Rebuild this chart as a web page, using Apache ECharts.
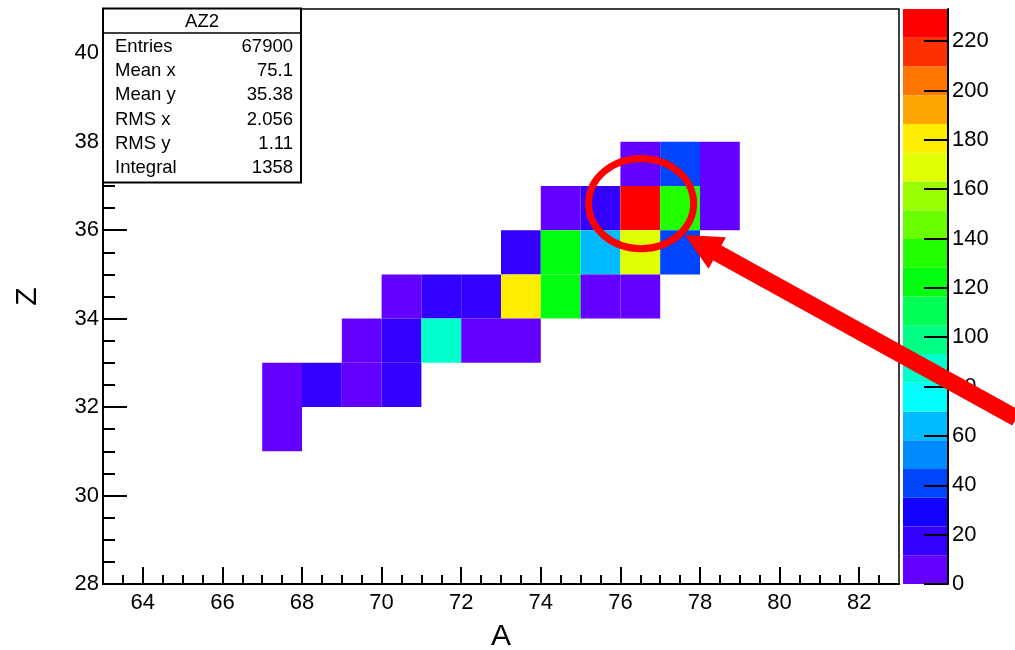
<!DOCTYPE html>
<html>
<head>
<meta charset="utf-8">
<script src="https://cdn.jsdelivr.net/npm/echarts@6/dist/echarts.min.js"></script>
<style>
  html, body { margin: 0; padding: 0; background: #fff; }
  #chart { width: 1015px; height: 650px; }
</style>
</head>
<body>
<div id="chart"></div>
<script>
// AZ2 histogram: bin contents, one row per Z value, bins starting at rowFirstA
const zRows     = [37, 36, 35, 34, 33, 32, 31];
const rowFirstA = [76, 74, 73, 70, 69, 67, 67];
const rowCounts = [
  [6, 40, 5],
  [6, 20, 233, 135, 7],
  [16, 122, 64, 170, 40],
  [4, 14, 15, 180, 122, 6, 5],
  [3, 13, 88, 4, 4],
  [3, 13, 4, 14],
  [2]
];

// axis ranges and tick labels
const aRange = [63, 83];
const zRange = [28, 41];
const aTicks = [64, 66, 68, 70, 72, 74, 76, 78, 80, 82];
const zTicks = [28, 30, 32, 34, 36, 38, 40];
const paletteTicks = [0, 20, 40, 60, 80, 100, 120, 140, 160, 180, 200, 220];

// statistics box
const statTitle  = 'AZ2';
const statLabels = ['Entries', 'Mean x', 'Mean y', 'RMS x', 'RMS y', 'Integral'];
const statValues = ['67900', '75.1', '35.38', '2.056', '1.11', '1358'];

// 20 contour colours, violet -> red
const palette = [
  '#6300ff', '#3300ff', '#1400ff', '#0044ff', '#008bff',
  '#00bbff', '#00fffc', '#00ffcc', '#00ff85', '#00ff55',
  '#00ff0e', '#22ff00', '#69ff00', '#99ff00', '#e0ff00',
  '#ffee00', '#ffa700', '#ff7700', '#ff3000', '#ff0000'
];

// annotation anchors (data units)
const ringCenter = [76.52, 36.6];
const ringRadius = [1.32, 1.02];
const arrowTip   = [77.62, 35.89];
const arrowTail  = [85.95, 31.75];

const FONT = '"Liberation Sans", Arial, Helvetica, sans-serif';

// flatten rows into [A, Z, count]
const cells = [];
zRows.forEach((z, r) => {
  rowCounts[r].forEach((c, j) => cells.push([rowFirstA[r] + j, z, c]));
});
const zTop = Math.max(...cells.map(c => c[2]));
const nLev = palette.length;
const step = zTop / nLev;
const pieces = palette.map((color, i) => (
  i === nLev - 1 ? { gte: i * step, lte: zTop, color } : { gte: i * step, lt: (i + 1) * step, color }
));
// colour-bar bands: [x, low, mid, high]
const bands = palette.map((_, i) => [0, i * step, (i + 0.5) * step, (i + 1) * step]);

const minorTicks = (lo, hi) => {
  const out = [];
  for (let v = lo + 0.5; v < hi; v += 0.5) if (v % 2 !== 0) out.push(v);
  return out;
};

const chart = echarts.init(document.getElementById('chart'), null, { renderer: 'canvas' });

const tickLabel = { color: '#000', fontFamily: FONT, fontSize: 22 };

chart.setOption({
  animation: false,
  backgroundColor: '#fff',
  textStyle: { fontFamily: FONT },
  grid: [
    { left: 103, top: 9, width: 796, height: 575, outerBoundsMode: 'none', containLabel: false,
      show: true, borderColor: '#000', borderWidth: 1.5, backgroundColor: 'transparent' },
    { left: 903, top: 9, width: 45, height: 575, outerBoundsMode: 'none', containLabel: false }
  ],
  xAxis: [
    {
      gridIndex: 0, type: 'value', min: aRange[0], max: aRange[1], position: 'bottom',
      axisLine: { show: true, onZero: false, lineStyle: { color: '#000', width: 2 } },
      axisTick: { show: true, inside: true, length: 17, lineStyle: { color: '#000', width: 2 }, customValues: aTicks },
      axisLabel: Object.assign({ margin: 8, customValues: aTicks }, tickLabel),
      splitLine: { show: false },
      name: 'A', nameLocation: 'middle', nameGap: 38,
      nameTextStyle: { color: '#000', fontFamily: FONT, fontSize: 30 }
    },
    {
      gridIndex: 0, type: 'value', min: aRange[0], max: aRange[1], position: 'bottom',
      axisLine: { show: false, onZero: false },
      axisTick: { show: true, inside: true, length: 9, lineStyle: { color: '#000', width: 2 }, customValues: minorTicks(aRange[0], aRange[1]) },
      axisLabel: { show: false },
      splitLine: { show: false }
    },
    { gridIndex: 1, type: 'value', min: 0, max: 1, show: false }
  ],
  yAxis: [
    {
      gridIndex: 0, type: 'value', min: zRange[0], max: zRange[1], position: 'left',
      axisLine: { show: true, onZero: false, lineStyle: { color: '#000', width: 2 } },
      axisTick: { show: true, inside: true, length: 24, lineStyle: { color: '#000', width: 2 }, customValues: zTicks },
      axisLabel: Object.assign({ margin: 4, customValues: zTicks }, tickLabel),
      splitLine: { show: false },
      name: 'Z', nameLocation: 'middle', nameGap: 60, nameRotate: 90,
      nameTextStyle: { color: '#000', fontFamily: FONT, fontSize: 30 }
    },
    {
      gridIndex: 0, type: 'value', min: zRange[0], max: zRange[1], position: 'left',
      axisLine: { show: false, onZero: false },
      axisTick: { show: true, inside: true, length: 12, lineStyle: { color: '#000', width: 2 }, customValues: minorTicks(zRange[0], zRange[1]) },
      axisLabel: { show: false },
      splitLine: { show: false }
    },
    {
      gridIndex: 1, type: 'value', min: 0, max: zTop, position: 'right', z: 10,
      axisLine: { show: true, onZero: false, lineStyle: { color: '#000', width: 2 } },
      axisTick: { show: true, inside: true, length: 24, lineStyle: { color: '#000', width: 2 }, customValues: paletteTicks },
      axisLabel: Object.assign({ margin: 4, customValues: paletteTicks }, tickLabel),
      splitLine: { show: false }
    }
  ],
  visualMap: {
    type: 'piecewise', show: false, dimension: 2, seriesIndex: [0, 1], pieces
  },
  series: [
    {
      name: 'AZ2', type: 'custom', xAxisIndex: 0, yAxisIndex: 0, clip: true,
      data: cells,
      renderItem(params, api) {
        const a = api.value(0), z = api.value(1);
        const p0 = api.coord([a, z + 1]);
        const p1 = api.coord([a + 1, z]);
        return {
          type: 'rect',
          shape: { x: p0[0], y: p0[1], width: p1[0] - p0[0], height: p1[1] - p0[1] },
          style: { fill: api.visual('color') }
        };
      }
    },
    {
      name: 'palette', type: 'custom', xAxisIndex: 2, yAxisIndex: 2, z: 1,
      data: bands,
      renderItem(params, api) {
        const p0 = api.coord([0, api.value(3)]);
        const p1 = api.coord([1, api.value(1)]);
        return {
          type: 'rect',
          shape: { x: p0[0], y: p0[1], width: p1[0] - p0[0], height: p1[1] - p0[1] },
          style: { fill: api.visual('color') }
        };
      }
    }
  ]
});

// statistics box
const boxX = 103, boxY = 8.5, boxW = 198, boxH = 174, titleH = 24.5, rowH = 24.2;
const Z_BOX = 100, Z_MARK = 120;
const statEls = [
  { type: 'rect', z: Z_BOX, shape: { x: boxX, y: boxY, width: boxW, height: boxH }, style: { fill: '#fff', stroke: '#000', lineWidth: 2 } },
  { type: 'line', z: Z_BOX + 1, shape: { x1: boxX, y1: boxY + titleH, x2: boxX + boxW, y2: boxY + titleH }, style: { stroke: '#000', lineWidth: 1.5 } },
  { type: 'text', z: Z_BOX + 1, x: boxX + boxW / 2, y: boxY + titleH / 2 + 1,
    style: { text: statTitle, fill: '#000', font: '18.5px ' + FONT, align: 'center', verticalAlign: 'middle' } }
];
statLabels.forEach((lab, i) => {
  const y = boxY + titleH + 14 + i * rowH;
  statEls.push({ type: 'text', z: Z_BOX + 1, x: boxX + 12, y,
    style: { text: lab, fill: '#000', font: '18.5px ' + FONT, align: 'left', verticalAlign: 'middle' } });
  statEls.push({ type: 'text', z: Z_BOX + 1, x: boxX + boxW - 8, y,
    style: { text: statValues[i], fill: '#000', font: '18.5px ' + FONT, align: 'right', verticalAlign: 'middle' } });
});

// red ring and arrow pointing at the peak bin
const toPx = p => chart.convertToPixel({ xAxisIndex: 0, yAxisIndex: 0 }, p);
const c = toPx(ringCenter);
const cr = toPx([ringCenter[0] + ringRadius[0], ringCenter[1] + ringRadius[1]]);
const tip = toPx(arrowTip);
const tail = toPx(arrowTail);
const dx = tail[0] - tip[0], dy = tail[1] - tip[1];
const len = Math.hypot(dx, dy);
const ux = dx / len, uy = dy / len, px = -uy, py = ux;
const headLen = 37, headHalf = 18;
const base = [tip[0] + ux * headLen, tip[1] + uy * headLen];

const markEls = [
  { type: 'ellipse', z: Z_MARK, shape: { cx: c[0], cy: c[1], rx: Math.abs(cr[0] - c[0]), ry: Math.abs(cr[1] - c[1]) },
    style: { fill: 'none', stroke: '#ff0000', lineWidth: 7 } },
  { type: 'line', z: Z_MARK, shape: { x1: tip[0] + ux * (headLen - 4), y1: tip[1] + uy * (headLen - 4), x2: tail[0], y2: tail[1] },
    style: { stroke: '#ff0000', lineWidth: 17, lineCap: 'butt' } },
  { type: 'polygon', z: Z_MARK, shape: { points: [tip, [base[0] + px * headHalf, base[1] + py * headHalf], [base[0] - px * headHalf, base[1] - py * headHalf]] },
    style: { fill: '#ff0000' } }
];

chart.setOption({
  graphic: statEls.concat(markEls)
});
</script>
</body>
</html>
